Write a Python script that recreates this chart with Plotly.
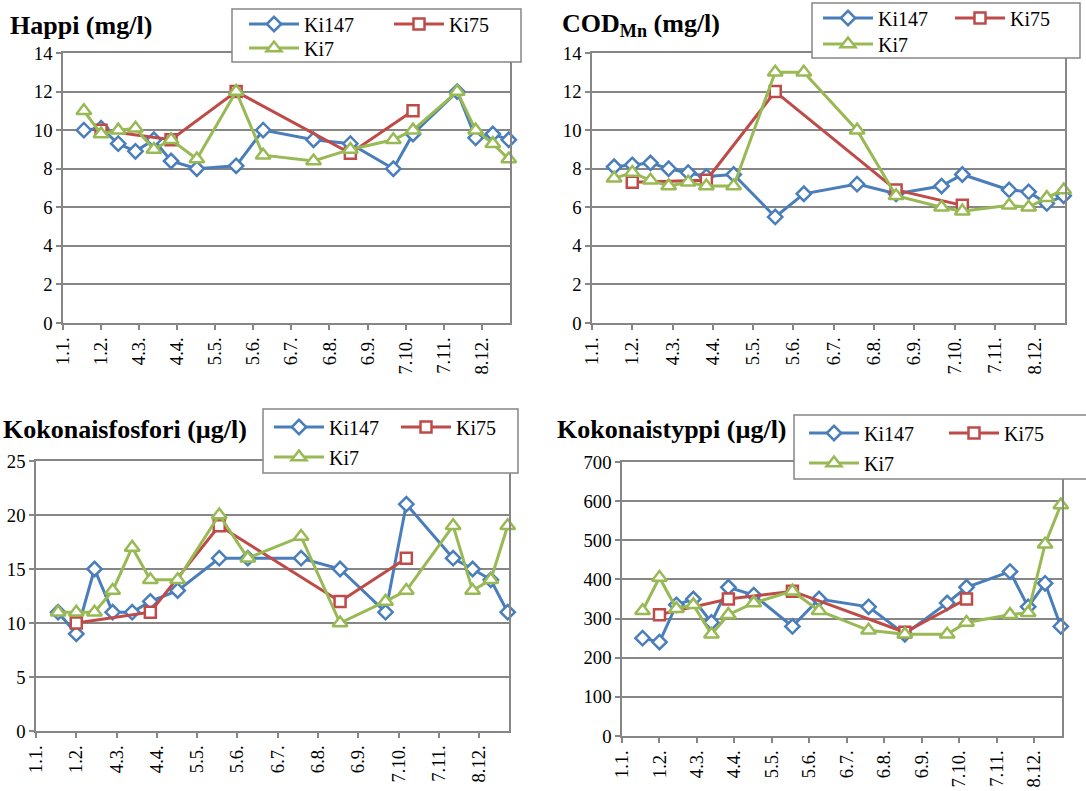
import plotly.graph_objects as go

W, H = 1086, 791

# ---------------- data ----------------
sample_dates = ["2010-01-18", "2010-02-01", "2010-02-15", "2010-03-01", "2010-03-16",
                "2010-03-30", "2010-04-20", "2010-05-22", "2010-06-13", "2010-07-24",
                "2010-08-23", "2010-09-27", "2010-10-13", "2010-11-18", "2010-12-03",
                "2010-12-17", "2010-12-30"]
ki75_dates = ["2010-02-01", "2010-03-30", "2010-05-22", "2010-08-23", "2010-10-13"]

tick_dates = ["2010-01-01", "2010-02-01", "2010-03-04", "2010-04-04", "2010-05-05",
              "2010-06-05", "2010-07-06", "2010-08-06", "2010-09-06", "2010-10-07",
              "2010-11-07", "2010-12-08"]
tick_labels = ["1.1.", "1.2.", "4.3.", "4.4.", "5.5.", "5.6.", "6.7.", "6.8.", "6.9.",
               "7.10.", "7.11.", "8.12."]
x_range = ["2010-01-01", "2010-12-31"]

series_names = ["Ki147", "Ki75", "Ki7"]

happi_ki147 = [10.0, 10.1, 9.3, 8.9, 9.5, 8.4, 8.0, 8.15, 10.0, 9.5, 9.3, 8.0, 9.8, 12.0, 9.6, 9.8, 9.5]
happi_ki75 = [10.0, 9.5, 12.0, 8.8, 11.0]
happi_ki7 = [11.0, 9.8, 10.0, 10.1, 9.0, 9.5, 8.5, 12.0, 8.7, 8.4, 9.0, 9.5, 10.0, 12.0, 10.0, 9.3, 8.5]

cod_ki147 = [8.1, 8.2, 8.3, 8.0, 7.8, 7.6, 7.7, 5.5, 6.7, 7.2, 6.7, 7.1, 7.7, 6.9, 6.8, 6.2, 6.6]
cod_ki75 = [7.3, 7.4, 12.0, 6.9, 6.1]
cod_ki7 = [7.5, 7.8, 7.4, 7.1, 7.3, 7.1, 7.1, 13.0, 13.0, 10.0, 6.6, 6.0, 5.8, 6.1, 6.0, 6.5, 6.9]

p_ki147 = [11, 9, 15, 11, 11, 12, 13, 16, 16, 16, 15, 11, 21, 16, 15, 14, 11]
p_ki75 = [10, 11, 19, 12, 16]
p_ki7 = [11, 11, 11, 13, 17, 14, 14, 20, 16, 18, 10, 12, 13, 19, 13, 14, 19]

n_ki147 = [250, 240, 335, 350, 290, 380, 360, 280, 350, 330, 260, 340, 380, 420, 330, 390, 280]
n_ki75 = [310, 350, 370, 265, 350]
n_ki7 = [320, 405, 325, 335, 260, 310, 340, 370, 320, 270, 260, 260, 290, 310, 315, 490, 590]

# ---------------- style ----------------
BLUE, RED, GREEN = "#4A7EBB", "#BE4B48", "#98B954"
GRID = "#868686"
FONT = "Liberation Serif, Times New Roman, DejaVu Serif, serif"

def px_x(p):
    return p / W

def px_y(p):
    return 1 - p / H

# txt = (x of first-column legend text, x of second-column legend text, row1 y, row2 y)
panels = [
    dict(title="Happi (mg/l)", data=(happi_ki147, happi_ki75, happi_ki7),
         dom=(63, 510, 53, 323), yr=(0, 14), dt=2,
         tpos=(8, 26), box=(232, 521, 9, 62), txt=(305, 450, 24, 48)),
    dict(title="COD<sub>Mn</sub> (mg/l)", data=(cod_ki147, cod_ki75, cod_ki7),
         dom=(592, 1065, 53, 323), yr=(0, 14), dt=2,
         tpos=(560, 25), box=(812, 1080, 3, 58), txt=(879, 1011, 18, 44)),
    dict(title="Kokonaisfosfori (µg/l)", data=(p_ki147, p_ki75, p_ki7),
         dom=(36, 509, 461, 731), yr=(0, 25), dt=5,
         tpos=(1, 429), box=(263, 518, 409, 473), txt=(330, 457, 427, 457)),
    dict(title="Kokonaistyppi (µg/l)", data=(n_ki147, n_ki75, n_ki7),
         dom=(622, 1062, 462, 736), yr=(0, 700), dt=100,
         tpos=(555, 429), box=(794, 1090, 415, 479), txt=(865, 1005, 433, 463)),
]

colors = [BLUE, RED, GREEN]
symbols = ["diamond", "square", "triangle-up"]
msizes = [11, 11, 13]

fig = go.Figure()
layout = dict(width=W, height=H, margin=dict(l=0, r=0, t=0, b=0, autoexpand=False),
              paper_bgcolor="white", plot_bgcolor="white", showlegend=True,
              font=dict(family=FONT, size=18.67, color="black"),
              annotations=[], shapes=[])

ITEMW = 50
leg_idx = 0
for i, p in enumerate(panels):
    n = "" if i == 0 else str(i + 1)
    xa, ya = "x" + n, "y" + n
    x0, x1, y0, y1 = p["dom"]
    layout["xaxis" + n] = dict(
        domain=[px_x(x0), px_x(x1)], anchor=ya, type="date", range=x_range,
        tickmode="array", tickvals=tick_dates, ticktext=tick_labels, tickangle=-90,
        ticks="outside", ticklen=5, tickwidth=1.5, tickcolor=GRID,
        showline=True, linecolor=GRID, linewidth=1.5, mirror=True, automargin=False,
        showgrid=False, zeroline=False, tickfont=dict(size=18.67, family=FONT),
        fixedrange=True)
    layout["yaxis" + n] = dict(
        domain=[px_y(y1), px_y(y0)], anchor=xa, range=list(p["yr"]), dtick=p["dt"],
        tick0=0, ticks="outside", ticklen=5, tickwidth=1.5, tickcolor=GRID,
        showline=True, linecolor=GRID, linewidth=1.5, mirror=True, automargin=False,
        showgrid=True, gridcolor=GRID, gridwidth=1.5, zeroline=False,
        tickfont=dict(size=18.67, family=FONT), fixedrange=True)
    # title
    layout["annotations"].append(dict(
        text="<b>" + p["title"] + "</b>", xref="paper", yref="paper",
        x=px_x(p["tpos"][0]), y=px_y(p["tpos"][1]), xanchor="left", yanchor="middle",
        showarrow=False, font=dict(size=26, family=FONT)))
    # legend box
    bx0, bx1, by0, by1 = p["box"]
    layout["shapes"].append(dict(
        type="rect", xref="paper", yref="paper", layer="above",
        x0=px_x(bx0), x1=px_x(bx1), y0=px_y(by1), y1=px_y(by0),
        line=dict(color=GRID, width=1.5), fillcolor="white"))
    tx1, tx2, ty1, ty2 = p["txt"]
    leg_pos = [(tx1, ty1), (tx2, ty1), (tx1, ty2)]
    for k in range(3):
        leg_idx += 1
        lname = "legend" if leg_idx == 1 else "legend" + str(leg_idx)
        xs = sample_dates if k != 1 else ki75_dates
        fig.add_trace(go.Scatter(
            x=xs, y=p["data"][k], name=series_names[k], mode="lines+markers",
            xaxis=xa, yaxis=ya, legend=lname, cliponaxis=False, showlegend=True,
            line=dict(color=colors[k], width=3),
            marker=dict(symbol=symbols[k], size=msizes[k], color="white",
                        line=dict(color=colors[k], width=2.5))))
        lx, ly = leg_pos[k]
        layout[lname] = dict(
            x=px_x(lx - ITEMW - 11), y=px_y(ly), xanchor="left", yanchor="middle",
            bgcolor="rgba(0,0,0,0)", borderwidth=0, visible=True, itemwidth=ITEMW,
            font=dict(size=20, family=FONT), orientation="h")

fig.update_layout(**layout)
fig.write_html("out.html")
